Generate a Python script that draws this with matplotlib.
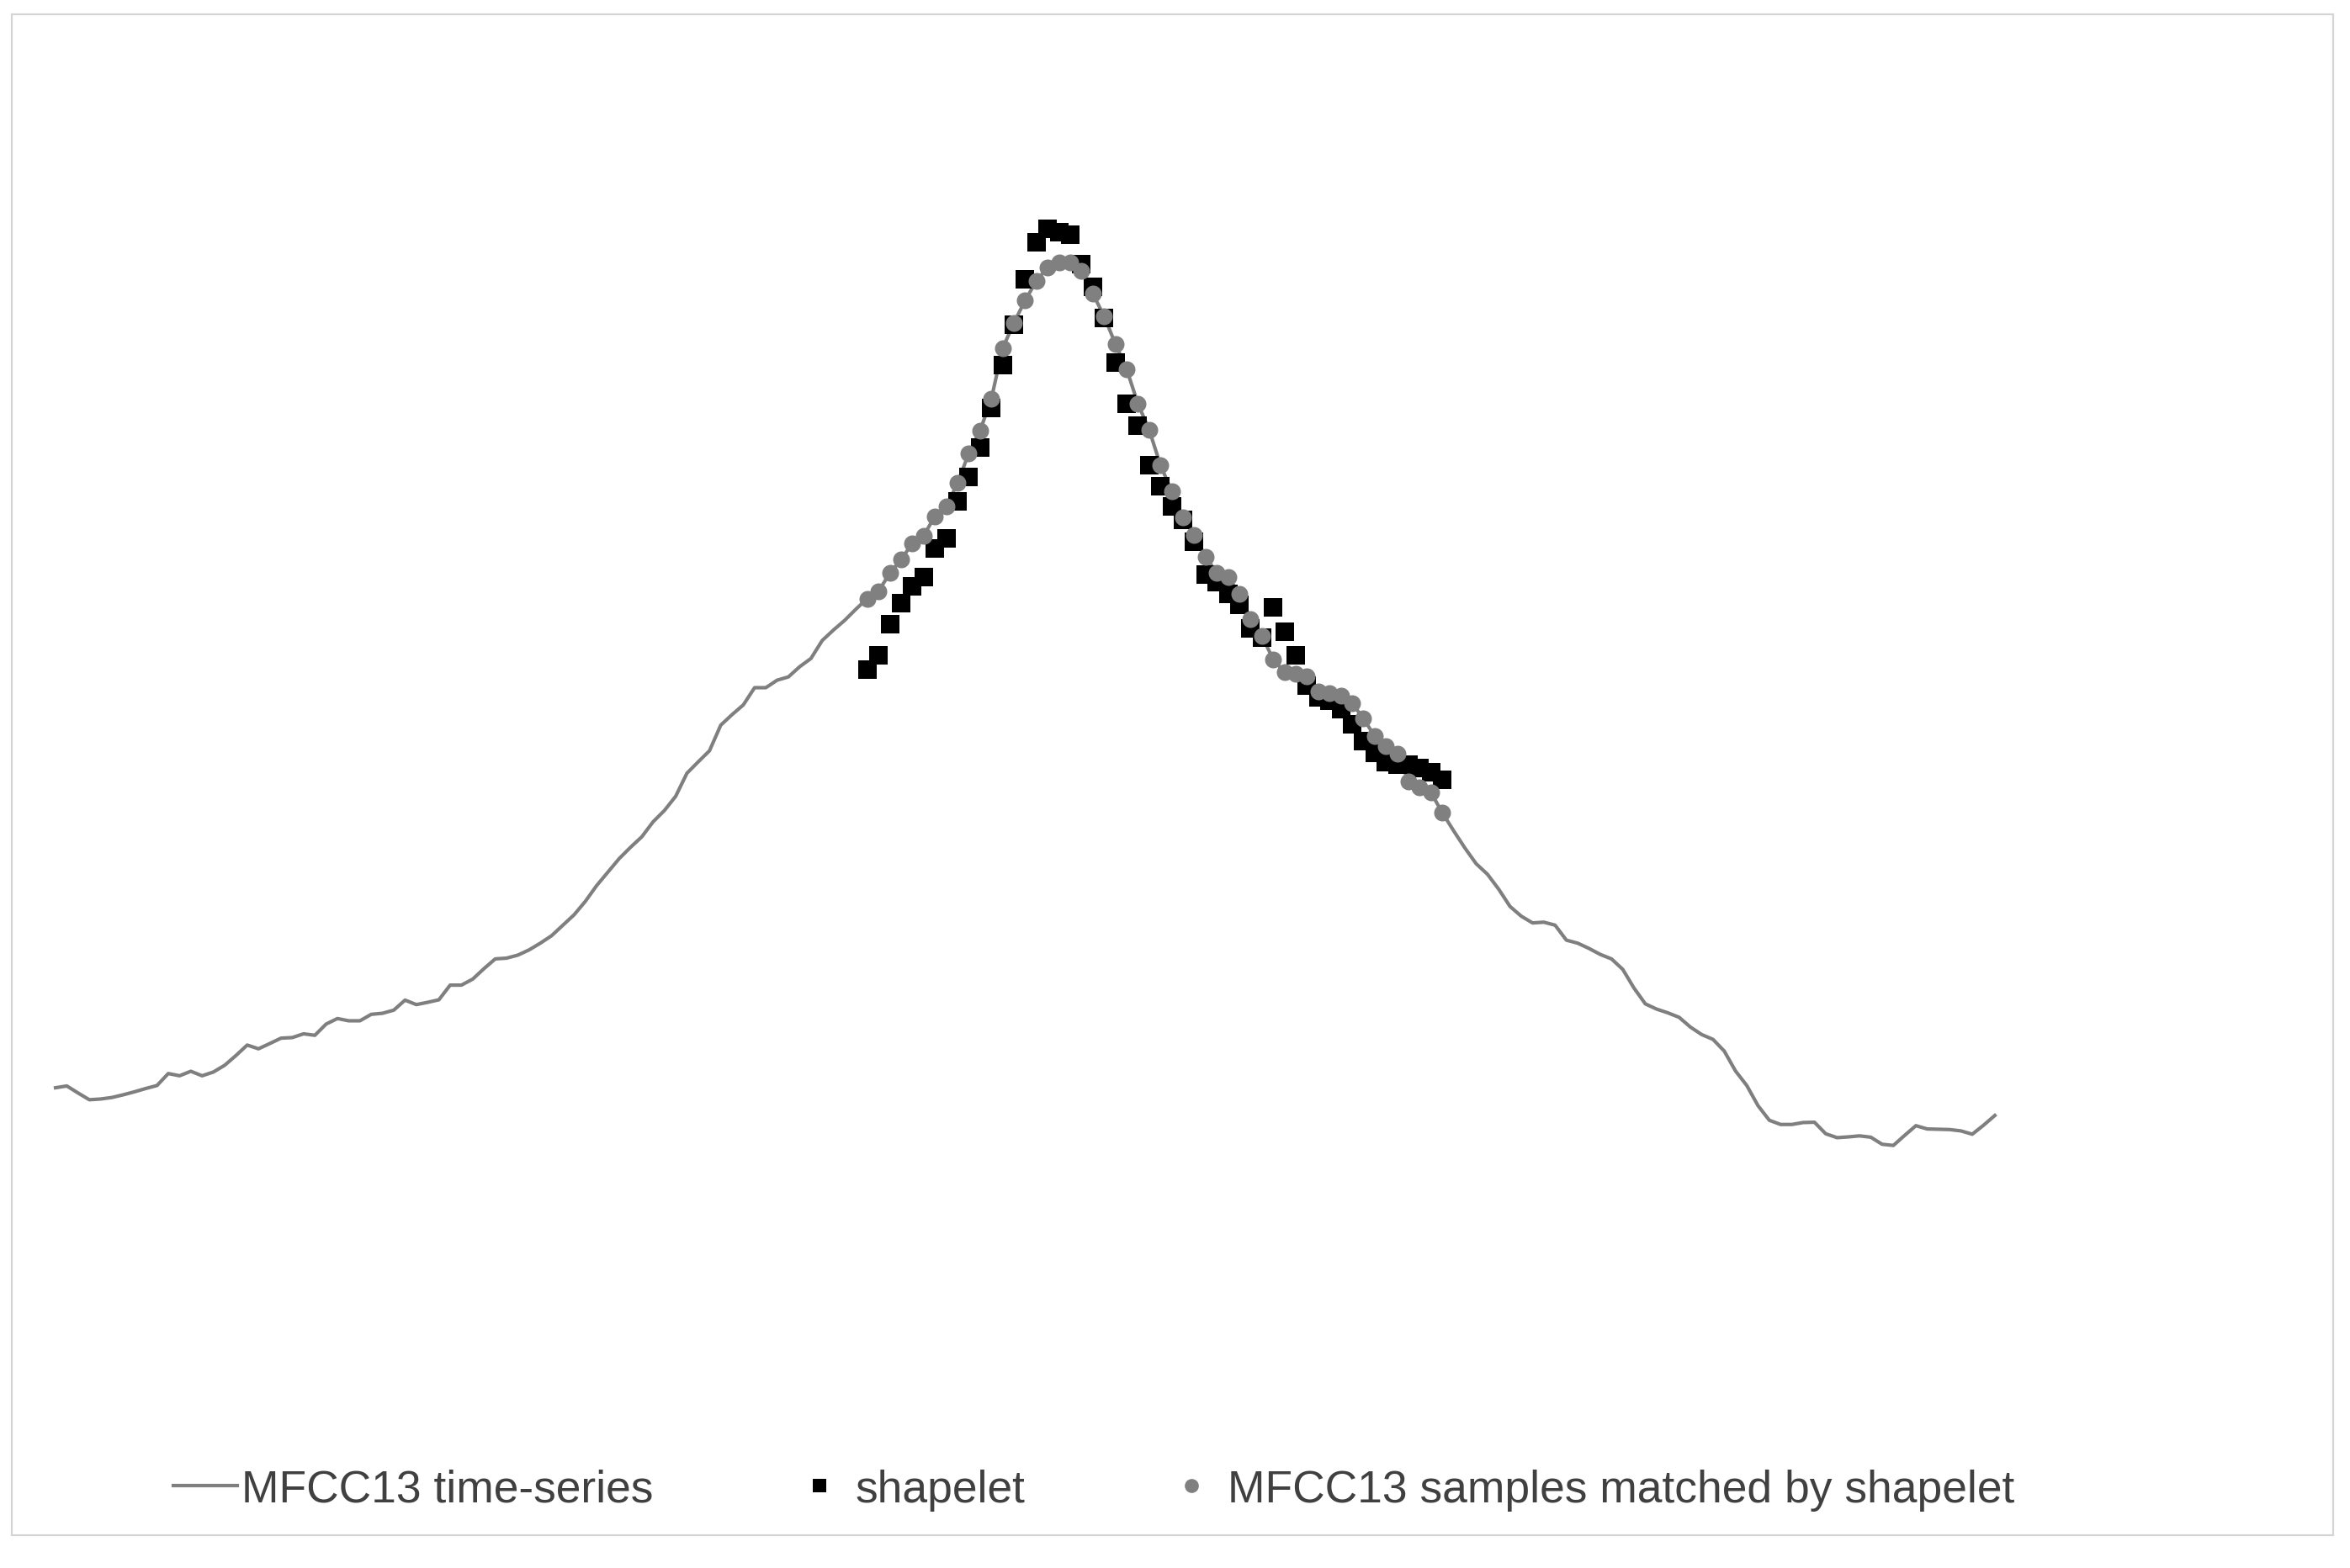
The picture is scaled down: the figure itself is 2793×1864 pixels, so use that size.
import matplotlib.pyplot as plt
from matplotlib.lines import Line2D
from matplotlib.patches import Rectangle

# MFCC13 samples before the window matched by the shapelet
series_before = [
    7.35, 7.47, 7.00, 6.55, 6.60, 6.70, 6.88, 7.08, 7.30, 7.50,
    8.30, 8.15, 8.45, 8.15, 8.40, 8.85, 9.50, 10.20, 9.95, 10.30,
    10.66, 10.70, 10.95, 10.85, 11.60, 11.97, 11.82, 11.82, 12.25, 12.32,
    12.53, 13.20, 12.90, 13.05, 13.22, 14.20, 14.20, 14.60, 15.30, 15.95,
    16.00, 16.20, 16.55, 17.00, 17.50, 18.20, 18.90, 19.80, 20.85, 21.75,
    22.65, 23.40, 24.10, 25.10, 25.85, 26.80, 28.34, 29.10, 29.84, 31.55,
    32.25, 32.90, 34.05, 34.05, 34.55, 34.77, 35.45, 36.00, 37.20, 37.90,
    38.55, 39.30,
]

# MFCC13 samples matched by the shapelet
matched = [
    40.00, 40.50, 41.70, 42.60, 43.70, 44.20, 45.50, 46.14, 47.70, 49.70,
    51.20, 53.33, 56.70, 58.40, 59.90, 61.20, 62.10, 62.45, 62.42, 61.85,
    60.35, 58.84, 57.00, 55.30, 53.00, 51.25, 48.90, 47.15, 45.40, 44.24,
    42.80, 41.70, 41.44, 40.30, 38.60, 37.50, 35.93, 35.10, 35.00, 34.80,
    33.80, 33.70, 33.50, 33.00, 32.00, 30.80, 30.14, 29.64, 27.80, 27.40,
    27.04, 25.70,
]

# MFCC13 samples after the matched window
series_after = [
    24.50, 23.35, 22.30, 21.60, 20.60, 19.45, 18.80, 18.35, 18.40, 18.20,
    17.20, 17.00, 16.65, 16.25, 15.95, 15.25, 14.00, 12.95, 12.60, 12.35,
    12.05, 11.40, 10.90, 10.58, 9.80, 8.47, 7.50, 6.15, 5.18, 4.90,
    4.90, 5.03, 5.05, 4.28, 4.02, 4.07, 4.14, 4.05, 3.58, 3.50,
    4.17, 4.82, 4.60, 4.58, 4.56, 4.47, 4.25, 4.85, 5.50,
]

# shapelet values, aligned with the matched window
shapelet = [
    35.25, 36.20, 38.30, 39.70, 40.80, 41.45, 43.32, 44.00, 46.50, 48.10,
    50.10, 52.70, 55.60, 58.30, 61.30, 63.80, 64.70, 64.45, 64.30, 62.30,
    60.80, 58.70, 55.75, 53.00, 51.55, 48.90, 47.50, 46.15, 45.24, 43.80,
    41.60, 41.10, 40.30, 39.60, 38.00, 37.40, 39.40, 37.80, 36.20, 34.20,
    33.40, 33.20, 32.60, 31.60, 30.50, 29.70, 29.10, 28.90, 28.90, 28.70,
    28.40, 27.90,
]

labels = ["MFCC13 time-series", "shapelet", "MFCC13 samples matched by shapelet"]

mfcc13 = series_before + matched + series_after
t = list(range(len(mfcc13)))
start = len(series_before)
t_match = t[start:start + len(matched)]

W, H = 2793, 1865
fig = plt.figure(figsize=(W / 100, H / 100), dpi=100)
ax = fig.add_axes([0, 0, 1, 1])

line_c = "#7f7f7f"
ax.plot(t, mfcc13, color=line_c, lw=3, solid_joinstyle="round", zorder=1)
ax.plot(t_match, shapelet, ls="none", marker="s", ms=15.8, mew=0,
        color="black", zorder=2)
ax.plot(t_match, matched, ls="none", marker="o", ms=14.4, mew=0,
        color="#808080", zorder=3)

ax.set_xlim(-4.925, 203.5)
ax.set_ylim(-24.7, 80)
ax.axis("off")

# chart area border
fig.patches.append(Rectangle((14 / W, 1 - 1826 / H), (2773 - 14) / W, (1826 - 18) / H,
                             transform=fig.transFigure, fill=False,
                             ec="#d4d4d4", lw=1.6))

handles = [
    Line2D([], [], color=line_c, lw=3),
    Line2D([], [], ls="none", marker="s", ms=12, mew=0, color="black"),
    Line2D([], [], ls="none", marker="o", ms=12, mew=0, color="#808080"),
]
fig.legend(handles, labels, loc="center", bbox_to_anchor=(1300 / W, 1 - 1772 / H),
           ncol=3, frameon=False, handlelength=1.43, handletextpad=0.09,
           columnspacing=2.98, labelcolor="#404040",
           prop={"family": ["Liberation Sans", "DejaVu Sans"], "size": 38.4})

fig.savefig("out.png", dpi=100, facecolor="white")
